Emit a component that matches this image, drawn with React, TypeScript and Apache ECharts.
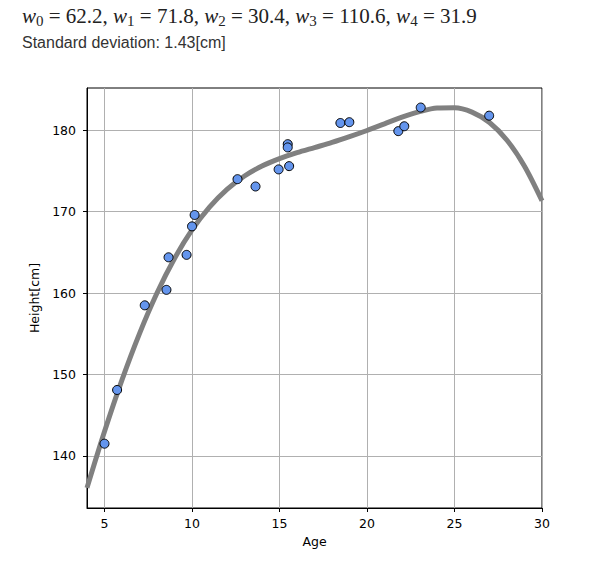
import React, { useEffect, useRef } from "react";
import * as echarts from "echarts";

// Observed data points (age, height)
const AGES = [5.0, 5.72, 7.3, 8.54, 8.66, 9.69, 10.0, 10.15, 12.6, 13.63, 14.95, 15.47, 15.47, 15.55, 18.48, 18.99, 21.79, 22.13, 23.07, 26.98];
const HEIGHTS = [141.5, 148.1, 158.5, 160.4, 164.4, 164.7, 168.2, 169.6, 174.0, 173.1, 175.2, 178.3, 177.9, 175.6, 180.9, 181.0, 179.9, 180.5, 182.8, 181.8];

// Fitted curve
const CURVE_AGES = [4, 5, 6, 7, 8, 9, 10, 11, 12, 13, 14, 15, 16, 17, 18, 19, 20, 21, 22, 23, 24, 25, 26, 27, 28, 29, 30];
const CURVE_HEIGHTS = [136.07, 142.99, 149.34, 155.03, 160.01, 164.25, 167.76, 170.56, 172.74, 174.39, 175.61, 176.52, 177.25, 177.88, 178.51, 179.22, 179.98, 180.8, 181.62, 182.3, 182.75, 182.78, 182.24, 180.96, 178.78, 175.59, 171.35];

const WEIGHTS = ["62.2", "71.8", "30.4", "110.6", "31.9"];
const SD_TEXT = "Standard deviation: 1.43[cm]";

const X_TICKS = [5, 10, 15, 20, 25, 30];
const Y_TICKS = [140, 150, 160, 170, 180];

const TICK_FONT = "DejaVu Sans";

export default function App() {
  const ref = useRef<HTMLDivElement>(null);
  useEffect(() => {
    if (!ref.current) return;
    const chart = echarts.init(ref.current, undefined, { renderer: "svg" });
    const wText = WEIGHTS.map((w, i) => `{w|w}{s|${i}}{n| = ${w}}`).join("{n|, }");
    const axisCommon = {
      type: "value" as const,
      axisLine: { show: true, onZero: false, lineStyle: { color: "#000", width: 1 } },
      splitLine: { show: true, lineStyle: { color: "#b0b0b0", width: 1 } },
      nameTextStyle: { fontFamily: TICK_FONT, fontSize: 12.5, color: "#000" },
    };
    chart.setOption({
      animation: false,
      backgroundColor: "#fff",
      grid: {
        left: 87,
        top: 88,
        right: 60,
        bottom: 62,
        show: true,
        borderColor: "#000",
        borderWidth: 1,
        outerBoundsMode: "none",
        containLabel: false,
      },
      graphic: [
        {
          type: "text",
          left: 22,
          top: 5,
          style: {
            text: wText,
            rich: {
              w: { fontFamily: "Liberation Serif", fontStyle: "italic", fontSize: 21, lineHeight: 26, verticalAlign: "middle", fill: "#222" },
              n: { fontFamily: "Liberation Serif", fontSize: 21, lineHeight: 26, verticalAlign: "middle", fill: "#222" },
              s: { fontFamily: "Liberation Serif", fontSize: 15, lineHeight: 15, verticalAlign: "bottom", fill: "#222" },
            },
          },
        },
        {
          type: "text",
          style: {
            text: SD_TEXT,
            x: 22,
            y: 42,
            verticalAlign: "middle",
            fontFamily: "Liberation Sans",
            fontSize: 16,
            fill: "#333",
          },
        },
      ],
      xAxis: {
        ...axisCommon,
        min: 4,
        max: 30,
        name: "Age",
        nameLocation: "middle",
        nameGap: 26,
        axisTick: { show: true, length: 4, customValues: X_TICKS, lineStyle: { color: "#000" } },
        axisLabel: { customValues: X_TICKS, margin: 9, fontFamily: TICK_FONT, fontSize: 12.5, color: "#000" },
      },
      yAxis: {
        ...axisCommon,
        min: 133.6,
        max: 185.2,
        name: "Height[cm]",
        nameLocation: "middle",
        nameGap: 37,
        axisTick: { show: true, length: 4, customValues: Y_TICKS, lineStyle: { color: "#000" } },
        axisLabel: { customValues: Y_TICKS, margin: 11, fontFamily: TICK_FONT, fontSize: 12.5, color: "#000" },
      },
      series: [
        {
          type: "line",
          data: CURVE_AGES.map((a, i) => [a, CURVE_HEIGHTS[i]]),
          smooth: 0.3,
          showSymbol: false,
          symbol: "none",
          clip: true,
          lineStyle: { color: "#808080", width: 5 },
          z: 2,
        },
        {
          type: "scatter",
          data: AGES.map((a, i) => [a, HEIGHTS[i]]),
          symbol: "circle",
          symbolSize: 9,
          itemStyle: { color: "#6495ED", borderColor: "#000", borderWidth: 1, opacity: 1 },
          z: 3,
        },
      ],
    });
    return () => chart.dispose();
  }, []);
  return <div ref={ref} style={{ position: "fixed", left: 0, top: 0, width: 602, height: 570 }} />;
}
